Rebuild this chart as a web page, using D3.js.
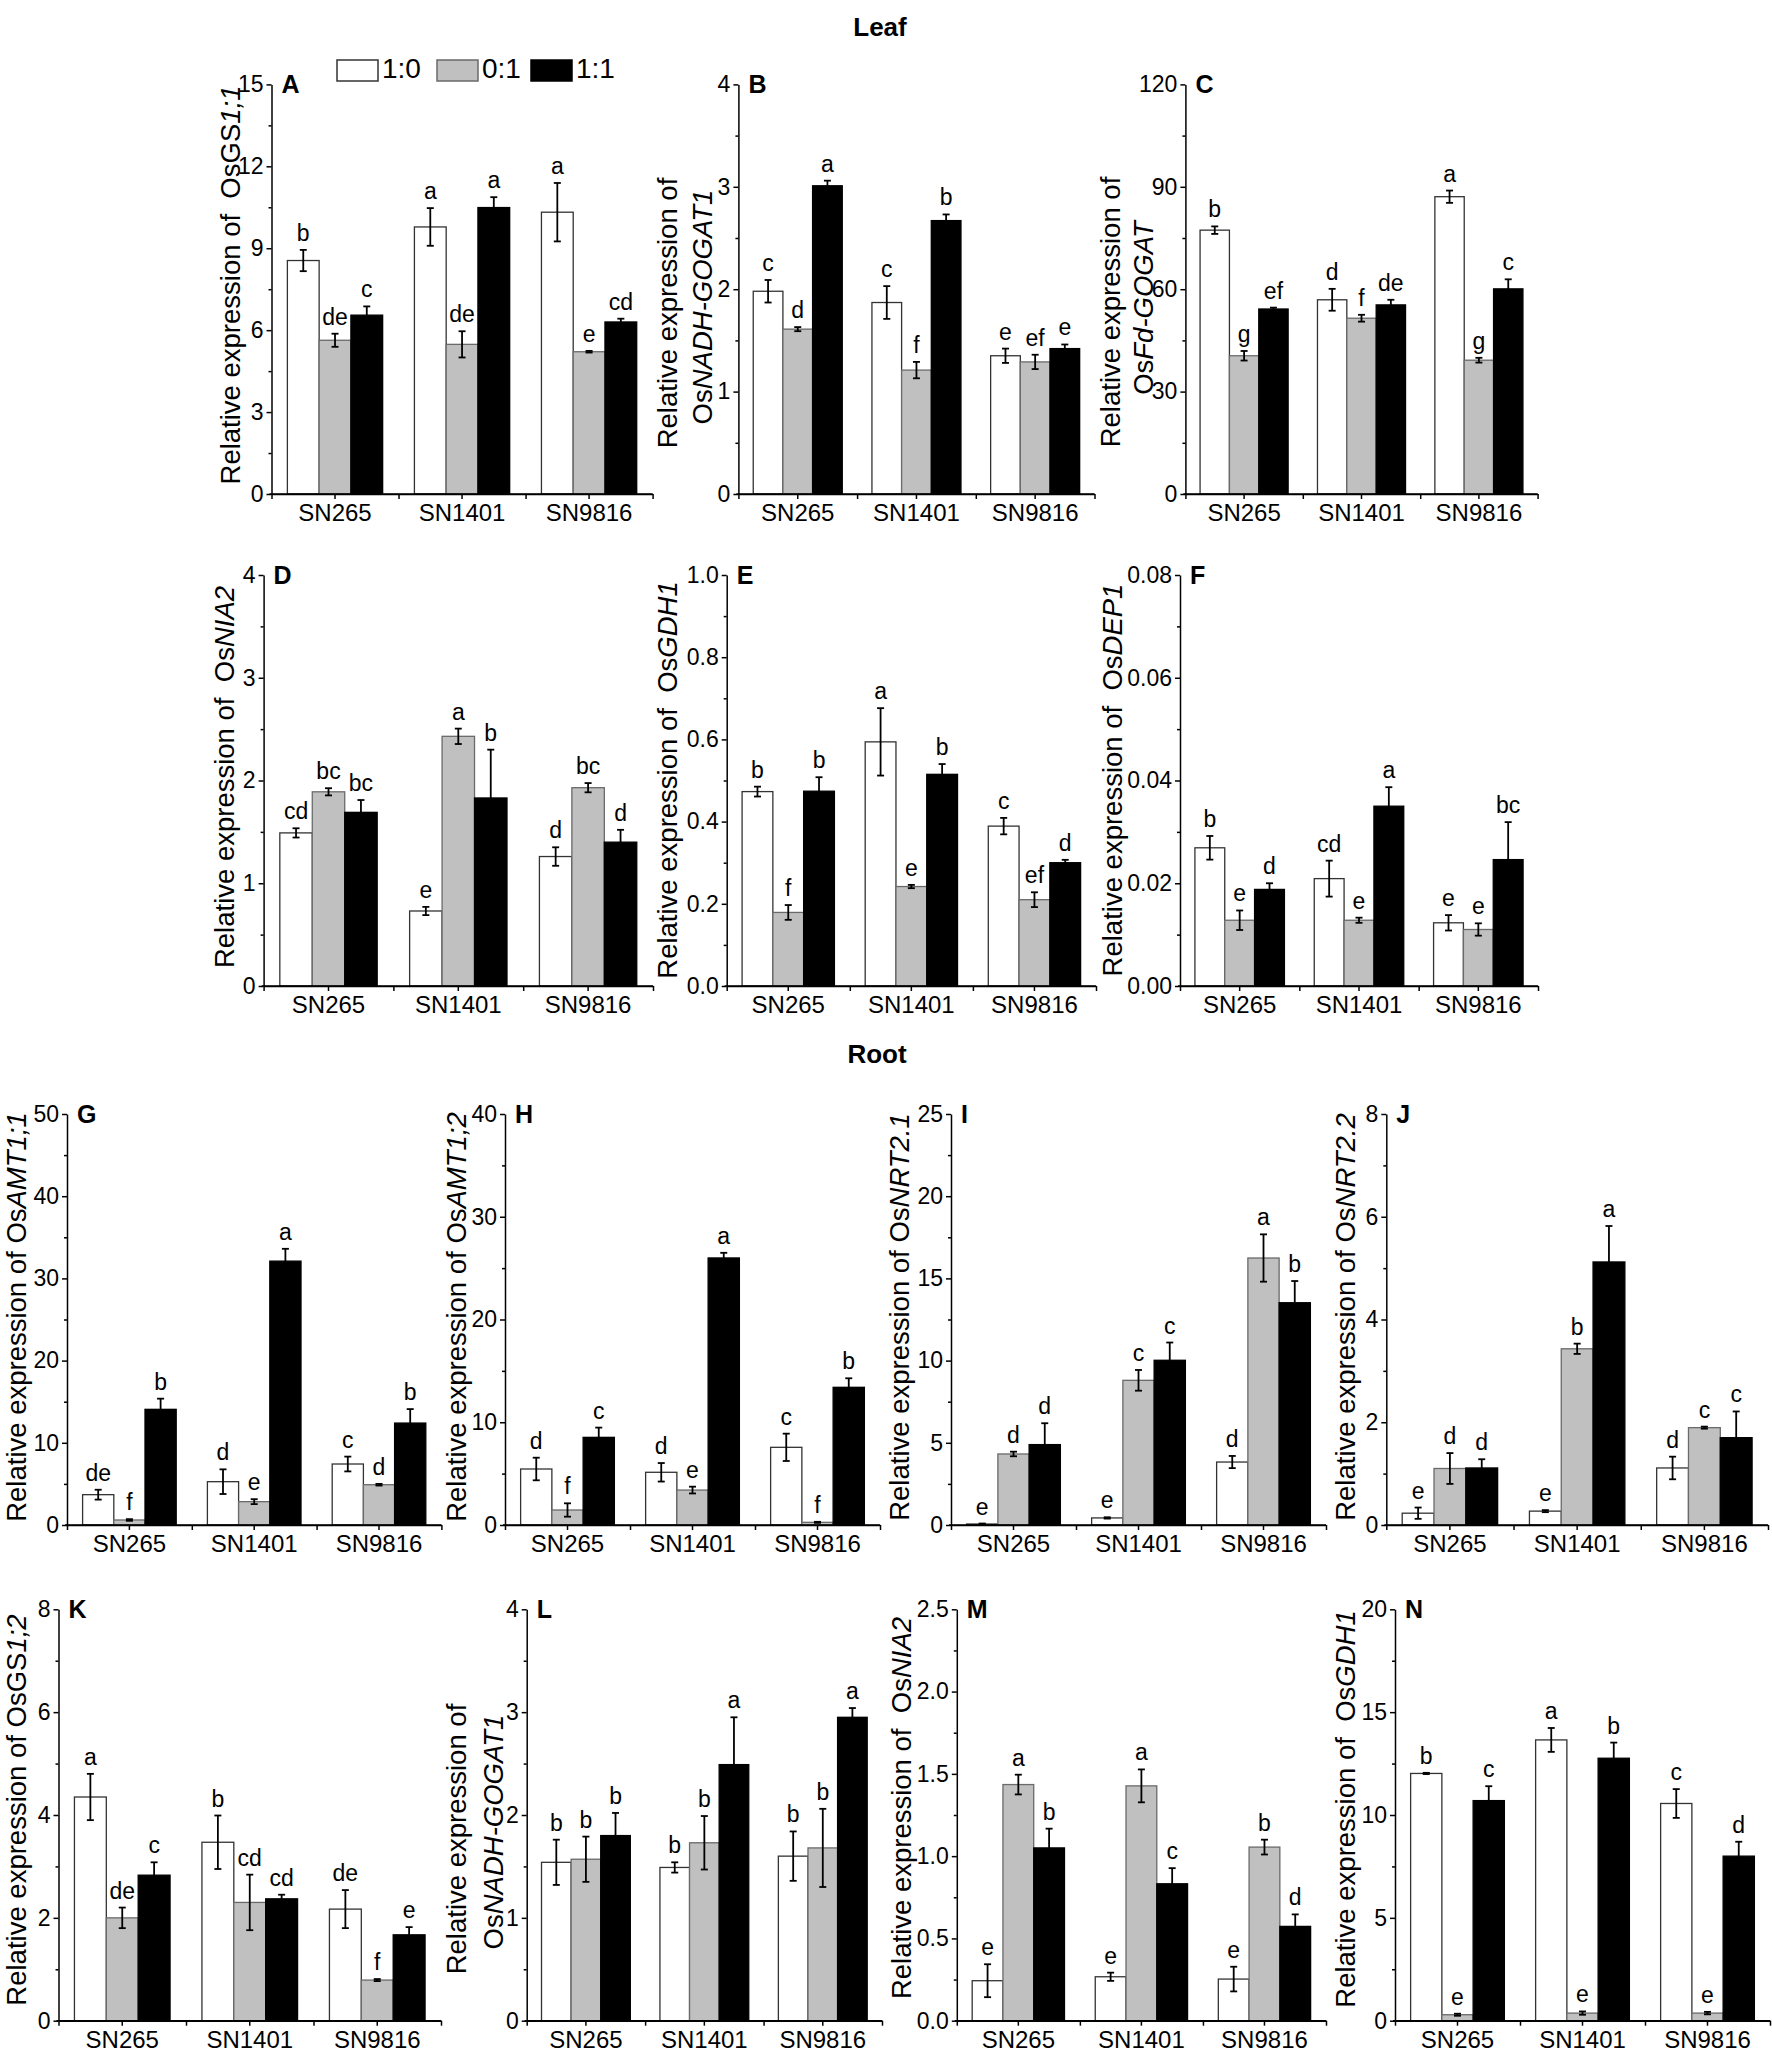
<!DOCTYPE html>
<html><head><meta charset="utf-8">
<script src="https://cdn.jsdelivr.net/npm/d3@7"></script>
<style>
body{margin:0;background:#fff}
svg text{font-family:"Liberation Sans",Arial,Helvetica,sans-serif;fill:#000}
</style>
</head><body>
<svg id="chart" width="1772" height="2052" xmlns="http://www.w3.org/2000/svg"></svg>
<script>
// ---------- DATA ----------
const categories = ["SN265", "SN1401", "SN9816"];
const seriesNames = ["1:0", "0:1", "1:1"];
const panelLetters = ["A","B","C","D","E","F","G","H","I","J","K","L","M","N"];
const sectionTitles = ["Leaf", "Root"];

const yMax      = [15, 4, 120, 4, 1.0, 0.08, 50, 40, 25, 8, 8, 4, 2.5, 20];
const yStep     = [3, 1, 30, 1, 0.2, 0.02, 10, 10, 5, 2, 2, 1, 0.5, 5];
const yDecimals = [0, 0, 0, 0, 1, 2, 0, 0, 0, 0, 0, 0, 1, 0];

const titlePrefix = ["Relative expression of  ", "Relative expression of", "Relative expression of",
  "Relative expression of  ", "Relative expression of  ", "Relative expression of  ",
  "Relative expression of ", "Relative expression of ", "Relative expression of ", "Relative expression of ",
  "Relative expression of ", "Relative expression of", "Relative expression of  ", "Relative expression of  "];
const geneUpright = ["OsGS","Os","Os","Os","Os","Os","Os","Os","Os","Os","OsGS","Os","Os","Os"];
const geneItalic  = ["1;1","NADH-GOGAT1","Fd-GOGAT","NIA2","GDH1","DEP1","AMT1;1","AMT1;2",
                     "NRT2.1","NRT2.2","1;2","NADH-GOGAT1","NIA2","GDH1"];

// series values per panel: [SN265, SN1401, SN9816]
const val10 = [[8.55,9.78,10.32],[1.98,1.87,1.35],[77.3,56.9,87.1],[1.49,0.73,1.26],[0.473,0.594,0.389],
  [0.0269,0.0209,0.0123],[3.69,5.27,7.42],[5.45,5.13,7.56],[0.06,0.43,3.83],[0.23,0.27,1.11],
  [4.35,3.47,2.17],[1.54,1.49,1.60],[0.243,0.267,0.253],[12.02,13.65,10.56]];
const val01 = [[5.63,5.48,5.21],[1.61,1.21,1.29],[40.5,51.5,39.2],[1.89,2.43,1.93],[0.179,0.242,0.21],
  [0.0128,0.0128,0.011],[0.61,2.84,4.9],[1.46,3.4,0.26],[4.32,8.8,16.24],[1.10,3.43,1.895],
  [2.0,2.3,0.79],[1.57,1.73,1.68],[1.435,1.427,1.055],[0.29,0.37,0.37]];
const val11 = [[6.55,10.49,6.30],[3.01,2.67,1.42],[54.2,55.4,60.1],[1.69,1.83,1.40],[0.474,0.515,0.30],
  [0.0188,0.035,0.0246],[14.07,32.1,12.4],[8.53,25.99,13.4],[4.89,10.02,13.52],[1.11,5.12,1.70],
  [2.83,2.37,1.67],[1.80,2.49,2.95],[1.05,0.832,0.573],[10.7,12.76,8.0]];

const err10 = [[0.39,0.69,1.07],[0.11,0.16,0.07],[1.1,3.2,1.8],[0.045,0.04,0.09],[0.012,0.082,0.02],
  [0.0023,0.0035,0.0015],[0.6,1.5,0.9],[1.1,0.9,1.33],[0.03,0.04,0.37],[0.11,0.02,0.22],
  [0.45,0.52,0.37],[0.22,0.05,0.24],[0.1,0.025,0.075],[0.03,0.58,0.7]];
const err01 = [[0.24,0.48,0.03],[0.02,0.08,0.07],[1.4,1.0,0.7],[0.035,0.075,0.045],[0.018,0.004,0.018],
  [0.0019,0.0005,0.0012],[0.1,0.3,0.1],[0.65,0.33,0.05],[0.14,0.63,1.44],[0.3,0.1,0.02],
  [0.2,0.54,0.02],[0.22,0.26,0.38],[0.06,0.1,0.045],[0.05,0.08,0.06]];
const err11 = [[0.32,0.38,0.12],[0.05,0.06,0.04],[0.4,1.5,2.8],[0.12,0.47,0.12],[0.034,0.025,0.007],
  [0.0012,0.0037,0.0073],[1.3,1.5,1.7],[0.95,0.5,0.88],[1.3,1.08,1.32],[0.17,0.7,0.51],
  [0.25,0.08,0.15],[0.22,0.46,0.09],[0.117,0.095,0.073],[0.7,0.76,0.7]];

const sig10 = [["b","a","a"],["c","c","e"],["b","d","a"],["cd","e","d"],["b","a","c"],["b","cd","e"],
  ["de","d","c"],["d","d","c"],["e","e","d"],["e","e","d"],["a","b","de"],["b","b","b"],["e","e","e"],["b","a","c"]];
const sig01 = [["de","de","e"],["d","f","ef"],["g","f","g"],["bc","a","bc"],["f","e","ef"],["e","e","e"],
  ["f","e","d"],["f","e","f"],["d","c","a"],["d","b","c"],["de","cd","f"],["b","b","b"],["a","a","b"],["e","e","e"]];
const sig11 = [["c","a","cd"],["a","b","e"],["ef","de","c"],["bc","b","d"],["b","b","d"],["d","a","bc"],
  ["b","a","b"],["c","a","b"],["d","c","b"],["d","a","c"],["c","cd","e"],["b","a","a"],["b","c","d"],["c","b","d"]];

// ---------- LAYOUT (pixel geometry only) ----------
const layout = [
  {x0:271.5,x1:652.6,yT:84.4,yB:494, tb:[240], tcy:[285]},
  {x0:738.4,x1:1094.5,yT:84.4,yB:494, tb:[677,712], tcy:[313,307]},
  {x0:1185.4,x1:1537.6,yT:84.4,yB:494, tb:[1120,1153], tcy:[312,308]},
  {x0:263.6,x1:653,yT:575,yB:986, tb:[234], tcy:[777]},
  {x0:726.7,x1:1096,yT:575,yB:986, tb:[677], tcy:[780]},
  {x0:1180,x1:1538,yT:575,yB:986, tb:[1122], tcy:[780]},
  {x0:67,x1:441.4,yT:1114,yB:1525, tb:[26], tcy:[1317]},
  {x0:505,x1:880,yT:1114,yB:1525, tb:[466], tcy:[1317]},
  {x0:951,x1:1326,yT:1114,yB:1525, tb:[909], tcy:[1317]},
  {x0:1386.3,x1:1768,yT:1114,yB:1525, tb:[1355], tcy:[1317]},
  {x0:58.5,x1:441,yT:1609.3,yB:2020.7, tb:[26], tcy:[1810]},
  {x0:526.7,x1:882,yT:1609.3,yB:2020.7, tb:[466,503], tcy:[1839,1832]},
  {x0:956.8,x1:1326,yT:1609.3,yB:2020.7, tb:[911], tcy:[1808]},
  {x0:1395,x1:1770,yT:1609.3,yB:2020.7, tb:[1355], tcy:[1809]}
];
const fills   = ["#ffffff", "#c0c0c0", "#000000"];
const strokes = ["#333333", "#6a6a6a", "#000000"];

// ---------- DRAW ----------
const svg = d3.select("#chart");
svg.append("rect").attr("width",1772).attr("height",2052).attr("fill","#fff");

svg.append("text").attr("x",880).attr("y",36).attr("text-anchor","middle")
  .attr("font-size",26).attr("font-weight","bold").text(sectionTitles[0]);
svg.append("text").attr("x",877).attr("y",1063).attr("text-anchor","middle")
  .attr("font-size",26).attr("font-weight","bold").text(sectionTitles[1]);

// legend (panel A)
const legX = [337, 437, 531];
seriesNames.forEach((s,k)=>{
  svg.append("rect").attr("x",legX[k]).attr("y",60).attr("width",41).attr("height",21)
    .attr("fill",fills[k]).attr("stroke",strokes[k]).attr("stroke-width",1.5);
  svg.append("text").attr("x",legX[k]+45).attr("y",78).attr("font-size",28).text(s);
});

const valsAll = [val10, val01, val11];
const errsAll = [err10, err01, err11];
const sigsAll = [sig10, sig01, sig11];

layout.forEach((L, i)=>{
  const g = svg.append("g");
  const x = d3.scaleBand().domain(categories).range([L.x0, L.x1]).paddingInner(0).paddingOuter(0);
  const xs = d3.scaleBand().domain(seriesNames).range([0, x.bandwidth()]).paddingInner(0).paddingOuter(0.5);
  const y = d3.scaleLinear().domain([0, yMax[i]]).range([L.yB, L.yT]);
  const fmt = d3.format("." + yDecimals[i] + "f");
  const n = Math.round(yMax[i]/yStep[i]);
  const major = d3.range(n+1).map(k=>k*yStep[i]);
  const minor = d3.range(n).map(k=>(k+0.5)*yStep[i]);

  // bars
  seriesNames.forEach((s,k)=>{
    categories.forEach((c,j)=>{
      const v = valsAll[k][i][j], e = errsAll[k][i][j];
      const bx = x(c) + xs(s), bw = xs.bandwidth();
      g.append("rect").attr("x", bx).attr("y", y(v)).attr("width", bw).attr("height", y(0)-y(v))
        .attr("fill", fills[k]).attr("stroke", strokes[k]).attr("stroke-width", 1.3);
      const cx = bx + bw/2;
      const eb = g.append("g").attr("stroke","#000").attr("stroke-width",1.8);
      eb.append("line").attr("x1",cx).attr("x2",cx).attr("y1",y(v-e)).attr("y2",y(v+e));
      eb.append("line").attr("x1",cx-3.5).attr("x2",cx+3.5).attr("y1",y(v+e)).attr("y2",y(v+e));
      eb.append("line").attr("x1",cx-3.5).attr("x2",cx+3.5).attr("y1",y(v-e)).attr("y2",y(v-e));
      g.append("text").attr("x",cx).attr("y",y(v+e)-9).attr("text-anchor","middle")
        .attr("font-size",23).text(sigsAll[k][i][j]);
    });
  });

  // y axis
  const ya = g.append("g").attr("transform",`translate(${L.x0},0)`)
    .call(d3.axisLeft(y).tickValues(major).tickFormat(fmt).tickSize(5).tickSizeOuter(0).tickPadding(3));
  g.append("g").attr("transform",`translate(${L.x0},0)`)
    .call(d3.axisLeft(y).tickValues(minor).tickFormat("").tickSize(3).tickSizeOuter(0))
    .select(".domain").remove();
  // x axis
  const xa = g.append("g").attr("transform",`translate(0,${L.yB})`)
    .call(d3.axisBottom(x).tickSize(5).tickSizeOuter(0).tickPadding(5));
  const xb = d3.scaleLinear().domain([0,3]).range([L.x0, L.x1]);
  g.append("g").attr("transform",`translate(0,${L.yB})`)
    .call(d3.axisBottom(xb).tickValues([0,1,2,3]).tickFormat("").tickSize(5).tickSizeOuter(0))
    .select(".domain").attr("d", `M${L.x0-2},0H${L.x1}`);
  g.selectAll(".domain, .tick line").attr("stroke","#000").attr("stroke-width",1.5);
  g.selectAll(".tick text").attr("font-size",23).attr("font-family",null).attr("fill","#000");
  xa.selectAll(".tick text").attr("font-size",24);
  g.selectAll("g").attr("font-family",null);

  // panel letter
  g.append("text").attr("x",L.x0+10).attr("y",L.yT+9).attr("font-size",25).attr("font-weight","bold")
    .text(panelLetters[i]);

  // y title
  if (L.tb.length === 1) {
    const t = g.append("text").attr("transform",`translate(${L.tb[0]},${L.tcy[0]}) rotate(-90)`)
      .attr("text-anchor","middle").attr("font-size",27.5).style("white-space","pre");
    t.append("tspan").text(titlePrefix[i] + geneUpright[i]);
    t.append("tspan").attr("font-style","italic").text(geneItalic[i]);
  } else {
    g.append("text").attr("transform",`translate(${L.tb[0]},${L.tcy[0]}) rotate(-90)`)
      .attr("text-anchor","middle").attr("font-size",27.5).text(titlePrefix[i]);
    const t = g.append("text").attr("transform",`translate(${L.tb[1]},${L.tcy[1]}) rotate(-90)`)
      .attr("text-anchor","middle").attr("font-size",27.5);
    t.append("tspan").text(geneUpright[i]);
    t.append("tspan").attr("font-style","italic").text(geneItalic[i]);
  }
});
</script>
</body></html>
